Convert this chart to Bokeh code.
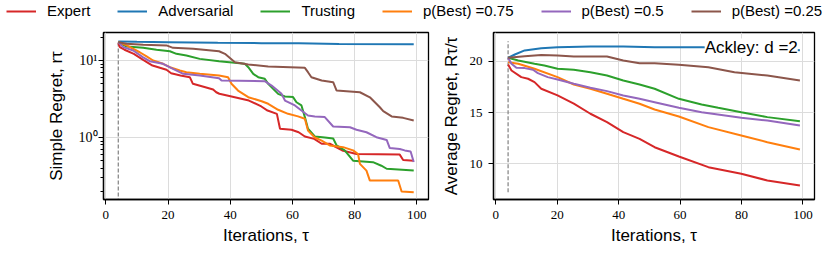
from bokeh.plotting import figure
from bokeh.models import Range1d, FixedTicker, Legend, LegendItem, Label
from bokeh.layouts import column, row
from bokeh.embed import file_html
from bokeh.resources import INLINE

# ---------------- data ----------------
series_names = ["Expert", "Adversarial", "Trusting", "p(Best) =0.75", "p(Best) =0.5", "p(Best) =0.25"]
series_colors = ["#d62728", "#1f77b4", "#2ca02c", "#ff7f0e", "#9467bd", "#8c564b"]

x_ticks = [0, 20, 40, 60, 80, 100]
simple_major_ticks = [1, 10]
simple_minor_ticks = [0.2, 0.3, 0.4, 0.5, 0.6, 0.7, 0.8, 0.9, 2, 3, 4, 5, 6, 7, 8, 9, 20]
simple_tick_labels = {1: "10\u2070", 10: "10\u00b9"}
avg_ticks = [10, 15, 20]

init_iter = 4
simple_vline = [0.1, 17.1]
avg_vline = [7.23, 21.98]

# Simple regret (left)
expert_s_x = [4, 4.5, 6, 9, 12, 15, 19.5, 21, 24, 27, 28, 32, 34.5, 35.5, 36.5, 39, 46, 50, 52, 55, 56, 59.7, 62, 64, 67, 69.4, 72, 76, 80.6, 94.5, 95.6, 99]
expert_s_y = [16.8, 14.9, 13.8, 12.2, 10.2, 8.6, 7.57, 6.84, 6.38, 6.07, 4.98, 4.50, 4.20, 3.87, 3.70, 3.51, 3.02, 2.53, 2.24, 2.03, 1.30, 1.26, 1.17, 1.03, 0.96, 0.83, 0.83, 0.68, 0.61, 0.60, 0.51, 0.50]

adv_s_x = [4, 10, 20, 36, 50, 62, 75, 99]
adv_s_y = [17.7, 17.5, 17.3, 17.0, 16.8, 16.7, 16.4, 16.2]

trust_s_x = [4, 6.7, 12, 16.3, 20.6, 22.7, 25.9, 30.2, 36.4, 44.7, 45.8, 47.4, 49, 51.1, 52.2, 53.8, 55.4, 57.6, 60.2, 61.3, 62.9, 64, 65, 67.2, 70.4, 73.1, 74.2, 76.8, 79.5, 85.9, 88.6, 90.3, 99]
trust_s_y = [17.3, 15.2, 14.6, 13.8, 13.2, 12.2, 11.6, 10.5, 9.8, 9.06, 8.19, 6.71, 6.07, 5.78, 4.98, 4.28, 3.69, 3.41, 3.35, 2.87, 2.61, 1.84, 1.30, 1.03, 1.0, 0.97, 0.79, 0.68, 0.50, 0.478, 0.43, 0.393, 0.372]

p75_s_x = [4, 6.7, 10.9, 13.1, 15.2, 18.4, 20.6, 23.8, 25.9, 30.2, 36.4, 39.3, 40.4, 42.5, 45.8, 50.1, 52.2, 55.4, 58.6, 61.8, 64, 65, 67.2, 69.4, 72, 76.3, 79.5, 81.1, 81.7, 83.8, 84.9, 94, 95.1, 99]
p75_s_y = [17.3, 15.7, 12.8, 11.3, 10.0, 9.06, 8.19, 7.41, 7.04, 6.71, 6.38, 6.07, 4.98, 4.07, 3.34, 2.96, 2.74, 2.29, 2.03, 1.88, 1.75, 1.23, 1.0, 0.91, 0.79, 0.75, 0.68, 0.61, 0.455, 0.372, 0.276, 0.276, 0.199, 0.195]

p50_s_x = [4, 5.6, 8.8, 12, 14.1, 18.4, 21.6, 24.9, 30.2, 36.4, 37.2, 51.1, 53.3, 56.5, 57.6, 60.8, 62.9, 65, 67.2, 70.4, 73.1, 78.5, 80.6, 83.8, 87, 90.3, 91.3, 94.5, 96.1, 98, 99]
p50_s_y = [17.3, 14.9, 13.5, 11.0, 9.8, 9.06, 7.80, 6.71, 6.38, 5.89, 5.49, 5.39, 4.73, 3.69, 3.02, 2.61, 2.24, 1.93, 1.88, 1.84, 1.39, 1.36, 1.26, 1.17, 1.01, 0.93, 0.73, 0.71, 0.68, 0.66, 0.48]

p25_s_x = [4, 6.7, 12, 19.5, 21.6, 28.1, 36.4, 38.3, 41.5, 45.8, 52.2, 64, 65, 66.1, 69.4, 73.1, 74.2, 81.7, 84.9, 86.5, 88.1, 89.2, 91.9, 95.6, 99]
p25_s_y = [17.3, 16.5, 16.0, 15.7, 14.6, 14.2, 13.2, 12.2, 9.5, 8.87, 8.36, 8.04, 7.05, 6.07, 5.49, 5.22, 4.07, 3.87, 3.33, 2.87, 2.47, 2.20, 1.88, 1.80, 1.66]

# Average regret (right)
expert_a_x = [4, 5.1, 8.3, 10.5, 12.6, 14.8, 20.1, 25.4, 30.8, 36.2, 41.5, 46.8, 51.7, 59.6, 69.2, 79.9, 88.4, 99]
expert_a_y = [19.71, 19.12, 18.47, 18.31, 17.98, 17.33, 16.68, 15.87, 14.89, 14.07, 13.09, 12.44, 11.62, 10.71, 9.67, 9.02, 8.37, 7.88]

adv_a_x = [4, 6.2, 9.4, 14.8, 20.1, 30.8, 41.5, 51.7, 67, 85, 99]
adv_a_y = [20.36, 20.68, 21.08, 21.30, 21.40, 21.47, 21.47, 21.40, 21.40, 21.3, 21.1]

trust_a_x = [4, 7.3, 12.6, 15.8, 20.1, 25.4, 30.8, 36.2, 41.5, 46.8, 51.7, 59.6, 67, 72.4, 79.9, 88.4, 99]
trust_a_y = [20.36, 20.1, 19.78, 19.61, 19.29, 19.19, 18.95, 18.63, 18.14, 17.75, 17.33, 16.35, 15.80, 15.47, 15.04, 14.56, 14.16]

p75_a_x = [4, 7.3, 12.6, 20.1, 25.4, 30.8, 36.2, 41.5, 46.8, 51.7, 59.6, 69.2, 79.9, 88.4, 99]
p75_a_y = [19.93, 19.78, 19.29, 18.47, 17.75, 17.33, 16.84, 16.35, 15.87, 15.31, 14.62, 13.58, 12.77, 12.11, 11.40]

p50_a_x = [4, 5.1, 6.7, 9.4, 12.1, 13.7, 16.9, 20.1, 25.4, 30.8, 36.2, 41.5, 46.8, 51.7, 59.6, 67, 79.9, 88.4, 99]
p50_a_y = [20.36, 19.78, 19.38, 19.35, 19.19, 18.86, 18.47, 18.24, 17.82, 17.43, 17.10, 16.68, 16.35, 16.02, 15.47, 15.04, 14.50, 14.23, 13.74]

p25_a_x = [4, 9.4, 14.8, 20.1, 25.4, 36.2, 41.5, 46.8, 51.7, 59.6, 69.2, 77.7, 88.4, 99]
p25_a_y = [20.36, 20.52, 20.62, 20.59, 20.49, 20.49, 20.10, 19.83, 19.83, 19.68, 19.44, 18.95, 18.63, 18.14]

simple_series = [(expert_s_x, expert_s_y), (adv_s_x, adv_s_y), (trust_s_x, trust_s_y),
                 (p75_s_x, p75_s_y), (p50_s_x, p50_s_y), (p25_s_x, p25_s_y)]
avg_series = [(expert_a_x, expert_a_y), (adv_a_x, adv_a_y), (trust_a_x, trust_a_y),
              (p75_a_x, p75_a_y), (p50_a_x, p50_a_y), (p25_a_x, p25_a_y)]

# ---------------- styling helpers ----------------
SANS = "Liberation Sans"
SERIF = "Liberation Serif"


def style(p):
    p.outline_line_color = "black"
    p.outline_line_width = 1.3
    p.outline_line_alpha = 1
    p.background_fill_color = "white"
    p.border_fill_color = "white"
    p.grid.grid_line_color = "#dcdcdc"
    p.grid.grid_line_width = 1
    for ax in p.axis:
        ax.axis_line_color = "black"
        ax.axis_line_width = 1.3
        ax.major_tick_line_color = "black"
        ax.major_tick_line_width = 1
        ax.major_tick_out = 5
        ax.major_tick_in = 0
        ax.minor_tick_out = 3
        ax.minor_tick_in = 0
        ax.major_label_text_font = SERIF
        ax.major_label_text_font_size = "13px"
        ax.major_label_text_color = "black"
        ax.axis_label_text_font = SANS
        ax.axis_label_text_font_size = "17px"
        ax.axis_label_text_font_style = "normal"
        ax.axis_label_text_color = "black"
    p.xaxis.ticker = FixedTicker(ticks=x_ticks)
    p.xaxis.minor_tick_line_color = None
    p.xaxis.axis_label = "Iterations, \u03c4"
    p.xaxis.major_label_standoff = 6
    p.xaxis.axis_label_standoff = 4


x_range = (-0.75, 103.75)

# left: simple regret
p1 = figure(width=438, height=237, y_axis_type="log",
            x_range=Range1d(*x_range), y_range=Range1d(0.1567, 23.1),
            min_border_left=103, min_border_right=10, min_border_top=9, min_border_bottom=61,
            toolbar_location=None, output_backend="svg")
style(p1)
p1.yaxis.ticker = FixedTicker(ticks=simple_major_ticks, minor_ticks=simple_minor_ticks)
p1.yaxis.major_label_overrides = simple_tick_labels
p1.yaxis.major_label_text_font_size = "14px"
p1.yaxis.major_label_standoff = 1
p1.yaxis.axis_label_standoff = 10
p1.yaxis.minor_tick_line_color = "black"
p1.yaxis.axis_label = "Simple Regret, r\u03c4"
p1.segment(x0=[init_iter], y0=[simple_vline[0]], x1=[init_iter], y1=[simple_vline[1]],
           line_color="#808080", line_width=1.2, line_dash="4 2")
for (xs, ys), c in zip(simple_series, series_colors):
    p1.line(xs, ys, line_color=c, line_width=2)

# right: average regret
p2 = figure(width=392, height=237,
            x_range=Range1d(*x_range), y_range=Range1d(6.51, 22.83),
            min_border_left=51, min_border_right=16, min_border_top=9, min_border_bottom=61,
            toolbar_location=None, output_backend="svg")
style(p2)
p2.yaxis.ticker = FixedTicker(ticks=avg_ticks)
p2.yaxis.minor_tick_line_color = None
p2.yaxis.major_label_standoff = 6
p2.yaxis.axis_label_standoff = 6
p2.yaxis.axis_label = "Average Regret, R\u03c4/\u03c4"
p2.segment(x0=[init_iter], y0=[avg_vline[0]], x1=[init_iter], y1=[avg_vline[1]],
           line_color="#808080", line_width=1.2, line_dash="4 2")
for (xs, ys), c in zip(avg_series, series_colors):
    p2.line(xs, ys, line_color=c, line_width=2)
p2.add_layout(Label(x=98.3, y=21.32, text="Ackley: d =2", text_align="right", text_baseline="middle",
                    text_font=SANS, text_font_size="17px", text_color="black",
                    background_fill_color="white", background_fill_alpha=1.0))

# legend strip on top (proxy lines lie outside this strip's ranges, only their legend glyphs show)
pl = figure(width=830, height=23, x_range=Range1d(-2, -1), y_range=Range1d(-2, -1),
            x_axis_location=None, y_axis_location=None, min_border=0,
            toolbar_location=None, output_backend="svg")
pl.grid.visible = False
pl.outline_line_color = None
items = []
for name, c, (xs, ys) in zip(series_names, series_colors, simple_series):
    r = pl.line(xs, ys, line_color=c, line_width=2)
    items.append(LegendItem(label=name, renderers=[r]))
legend = Legend(items=items, orientation="horizontal", location=(6, 4),
                glyph_width=30, glyph_height=16, label_height=16, label_standoff=11, spacing=27,
                padding=0, margin=0, border_line_color=None, background_fill_alpha=0,
                label_text_font=SANS, label_text_font_size="15px", label_text_color="black")
pl.add_layout(legend)

layout = column(pl, row(p1, p2))
open("out.html", "w").write(file_html(layout, INLINE))
